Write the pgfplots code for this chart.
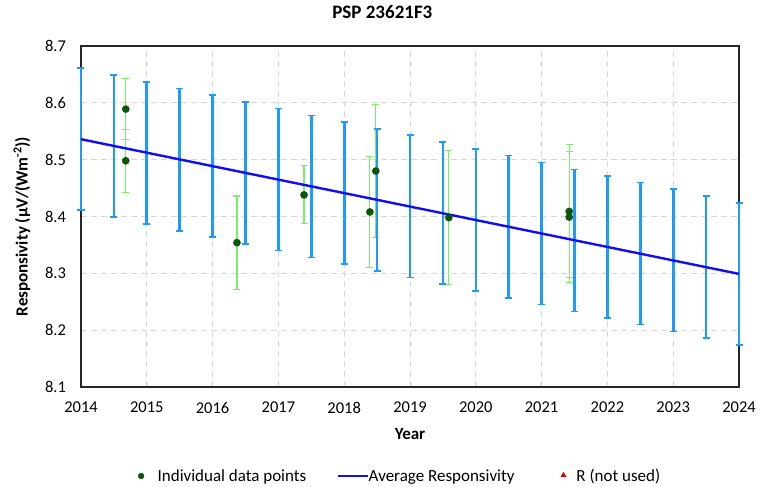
\documentclass[border=0pt]{standalone}
\usepackage{fontspec}
\setmainfont{Carlito}
\usepackage{pgfplots}
\pgfplotsset{compat=1.18}
\definecolor{barblue}{RGB}{28,155,250}
\definecolor{lineblue}{RGB}{15,15,240}
\definecolor{errgreen}{RGB}{120,240,100}
\definecolor{ptgreen}{RGB}{12,85,12}
\definecolor{rred}{RGB}{220,0,0}
\definecolor{gridgray}{RGB}{215,215,215}
\newcommand\fs{\fontsize{16.5bp}{19.8bp}\selectfont}
\newcommand\flg{\fontsize{17bp}{20bp}\selectfont}
\newcommand\fl{\fontsize{17bp}{20bp}\selectfont\bfseries}
\newcommand\ft{\fontsize{19bp}{23bp}\selectfont\bfseries}
\begin{document}
\begin{tikzpicture}
\useasboundingbox (-81bp,-100bp) rectangle (685bp,387bp);
\begin{axis}[
  scale only axis, width=658bp, height=341bp,
  xmin=2014, xmax=2024, ymin=8.1, ymax=8.7,
  xtick={2014,2015,2016,2017,2018,2019,2020,2021,2022,2023,2024},
  ytick={8.1,8.2,8.3,8.4,8.5,8.6,8.7},
  grid=major,
  grid style={color=gridgray, line width=0.9bp, dash pattern=on 6bp off 4bp},
  major tick length=0pt,
  axis line style={line width=1.8bp, color=black!85},
  clip=false,
  /pgf/number format/assume math mode=true,
  tick label style={font=\fs},
  x tick label style={/pgf/number format/1000 sep={}, yshift=-11.5bp},
  y tick label style={/pgf/number format/.cd, fixed, fixed zerofill, precision=1, /tikz/.cd, xshift=-11.5bp},
  title={PSP 23621F3},
  title style={font=\ft, at={(axis description cs:0.458,1.0806)}, anchor=center},
  xlabel={Year},
  xlabel style={font=\fl, at={(axis description cs:0.5,-0.1378)}, anchor=center},
  ylabel={Responsivity (µV/(Wm\textsuperscript{-2}))},
  ylabel style={font=\fl, at={(axis description cs:-0.0897,0.4707)}, anchor=center},
  legend columns=3,
  legend cell align=left,
  legend style={at={(axis description cs:0.4835,-0.261)}, anchor=center,
    draw=none, fill=none, font=\flg, inner sep=0pt, outer sep=0pt,
    nodes={inner sep=0pt, outer sep=0pt}, column sep=0pt},
]
% green error bars of individual points
\addplot[forget plot, draw=none, mark=none,
  error bars/.cd, y dir=both, y explicit,
  error bar style={draw=errgreen, line width=1.2bp},
  error mark options={draw=errgreen, rotate=90, mark size=3.5bp, line width=1.1bp}]
  coordinates {
  (2014.68,8.589) +- (0,0.054)
  (2014.68,8.498) +- (0,0.055)
  (2016.37,8.354) +- (0,0.082)
  (2017.39,8.438) +- (0,0.051)
  (2018.39,8.408) +- (0,0.097)
  (2018.48,8.480) +- (0,0.117)
  (2019.59,8.398) +- (0,0.118)
  (2021.42,8.409) +- (0,0.117)
  (2021.42,8.399) +- (0,0.115)
  };
% blue uncertainty bars on the average
\addplot[forget plot, draw=none, mark=none,
  error bars/.cd, y dir=both, y explicit,
  error bar style={draw=barblue, line width=2.6bp},
  error mark options={draw=barblue, rotate=90, mark size=3.5bp, line width=1.6bp}]
  coordinates {
  (2014.0,8.536) +- (0,0.125)
  (2014.5,8.524) +- (0,0.125)
  (2015.0,8.512) +- (0,0.125)
  (2015.5,8.500) +- (0,0.125)
  (2016.0,8.489) +- (0,0.125)
  (2016.5,8.477) +- (0,0.125)
  (2017.0,8.465) +- (0,0.125)
  (2017.5,8.453) +- (0,0.125)
  (2018.0,8.441) +- (0,0.125)
  (2018.5,8.429) +- (0,0.125)
  (2019.0,8.418) +- (0,0.125)
  (2019.5,8.406) +- (0,0.125)
  (2020.0,8.394) +- (0,0.125)
  (2020.5,8.382) +- (0,0.125)
  (2021.0,8.370) +- (0,0.125)
  (2021.5,8.358) +- (0,0.125)
  (2022.0,8.346) +- (0,0.125)
  (2022.5,8.335) +- (0,0.125)
  (2023.0,8.323) +- (0,0.125)
  (2023.5,8.311) +- (0,0.125)
  (2024.0,8.299) +- (0,0.125)
  };
% average responsivity line
\addplot[forget plot, lineblue, line width=2.4bp, mark=none]
  coordinates {(2014,8.536) (2024,8.299)};
% individual data points
\addplot[forget plot, only marks, mark=*, mark size=3.6bp, color=ptgreen]
  coordinates {
  (2014.68,8.589) (2014.68,8.498) (2016.37,8.354) (2017.39,8.438)
  (2018.39,8.408) (2018.48,8.480) (2019.59,8.398) (2021.42,8.409) (2021.42,8.399)
  };
\addlegendimage{legend image code/.code={\path[draw=none,fill=none] (0bp,0bp) -- (19.5bp,0bp); \fill[ptgreen] (3bp,0bp) circle[radius=2.9bp];}}
\addlegendentry{Individual data points}
\addlegendimage{legend image code/.code={\path[draw=none,fill=none] (0bp,0bp) -- (62bp,0bp); \draw[lineblue, line width=1.8bp] (32bp,0bp) -- (61.5bp,0bp);}}
\addlegendentry{Average Responsivity}
\addlegendimage{legend image code/.code={\path[draw=none,fill=none] (0bp,0bp) -- (62bp,0bp); \fill[rred, draw=none] (49bp,0.8bp) +(90:3.4bp) -- +(210:3.4bp) -- +(330:3.4bp) -- cycle;}}
\addlegendentry{R (not used)}
\end{axis}
\end{tikzpicture}
\end{document}
